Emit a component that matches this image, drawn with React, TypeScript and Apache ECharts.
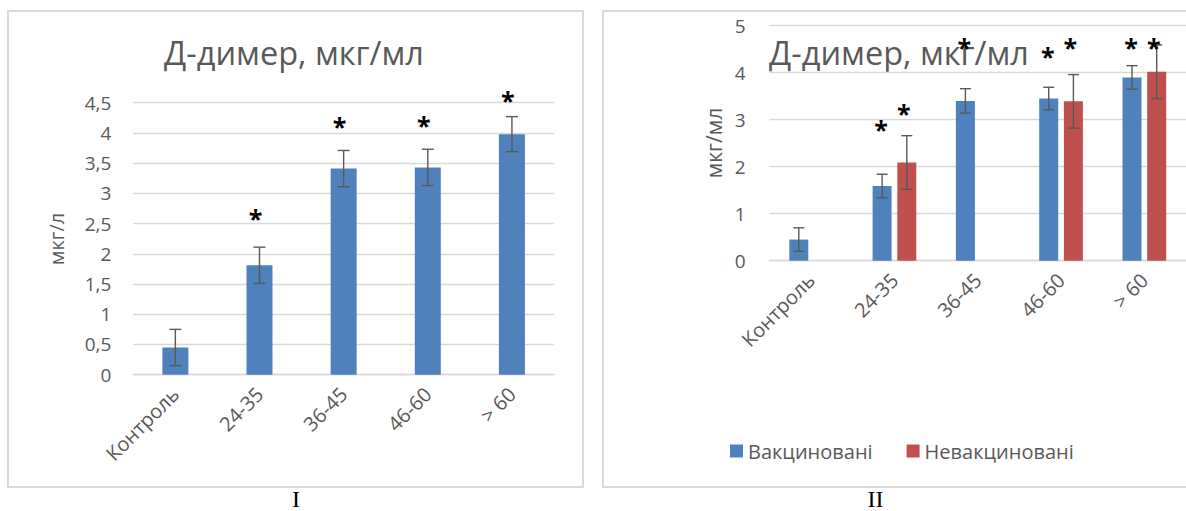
import React, { useEffect, useRef } from "react";
import * as echarts from "echarts";

// Age groups shared by both panels
const categories = ["Контроль", "24-35", "36-45", "46-60", "> 60"];

// Panel I: all patients
const dimerAll = [0.45, 1.81, 3.41, 3.43, 3.98];
const dimerAllErr = [0.3, 0.3, 0.3, 0.3, 0.29];
const starsAll = [null, 2.67, 4.19, 4.21, 4.63];

// Panel II: vaccinated vs unvaccinated
const seriesNames = ["Вакциновані", "Невакциновані"];
const dimerVacc = [0.45, 1.59, 3.4, 3.45, 3.9];
const dimerVaccErr = [0.25, 0.25, 0.26, 0.24, 0.25];
const dimerUnvacc = [null, 2.09, null, 3.39, 4.02];
const dimerUnvaccErr = [null, 0.57, null, 0.57, 0.57];
const starsVacc = [null, 2.91, 4.66, 4.47, 4.65];
const starsUnvacc = [null, 3.24, null, 4.65, 4.66];

const titleText = "Д-димер, мкг/мл";
const yNameI = "мкг/л";
const yNameII = "мкг/мл";
const panelLabels = ["I", "II"];

const FONT = "'Open Sans', 'Noto Sans', sans-serif";
const SERIF = "'Liberation Serif', 'Times New Roman', serif";
const GRAY = "#595959";
const GRID = "#d9d9d9";
const BLUE = "#4f81bd";
const RED = "#c0504d";

const fmt = (v: number) => String(v).replace(".", ",");

function errorBars(axis: number, values: (number | null)[], errs: (number | null)[], offset: number, capHalf: number) {
  const data: number[][] = [];
  values.forEach((v, i) => {
    if (v != null && errs[i] != null) data.push([i, v, errs[i] as number]);
  });
  return {
    type: "custom",
    xAxisIndex: axis,
    yAxisIndex: axis,
    silent: true,
    z: 10,
    data,
    renderItem: (_p: any, api: any) => {
      const x = api.value(0);
      const v = api.value(1);
      const e = api.value(2);
      const top = api.coord([x, v + e]);
      const bot = api.coord([x, v - e]);
      const cx = top[0] + offset;
      const st = { stroke: GRAY, lineWidth: 1.4 };
      return {
        type: "group",
        children: [
          { type: "line", shape: { x1: cx, y1: top[1], x2: cx, y2: bot[1] }, style: st },
          { type: "line", shape: { x1: cx - capHalf, y1: top[1], x2: cx + capHalf, y2: top[1] }, style: st },
          { type: "line", shape: { x1: cx - capHalf, y1: bot[1], x2: cx + capHalf, y2: bot[1] }, style: st },
        ],
      };
    },
  };
}

function stars(axis: number, heights: (number | null)[], offset: number) {
  const data: number[][] = [];
  heights.forEach((h, i) => {
    if (h != null) data.push([i, h]);
  });
  return {
    type: "custom",
    xAxisIndex: axis,
    yAxisIndex: axis,
    silent: true,
    z: 11,
    data,
    renderItem: (_p: any, api: any) => {
      const p = api.coord([api.value(0), api.value(1)]);
      return {
        type: "text",
        x: p[0] + offset,
        y: p[1] + 5,
        style: {
          text: "*",
          fill: "#000",
          fontFamily: FONT,
          fontWeight: "bold",
          fontSize: 25,
          align: "center",
          verticalAlign: "middle",
        },
      };
    },
  };
}

const xAxisBase = {
  type: "category",
  data: categories,
  axisTick: { show: false },
  axisLine: { lineStyle: { color: GRID, width: 1.4 } },
  axisLabel: { rotate: 45, fontSize: 20, color: GRAY, fontFamily: FONT, margin: 16, interval: 0 },
};

const yAxisBase = {
  type: "value",
  min: 0,
  axisLine: { show: false },
  axisTick: { show: false },
  splitLine: { lineStyle: { color: GRID, width: 1.4 } },
};

export default function App() {
  const ref = useRef<HTMLDivElement>(null);

  useEffect(() => {
    if (!ref.current) return;
    const chart = echarts.init(ref.current, undefined, { renderer: "svg" });
    const pairOffset = (19 + 19 * 0.3) / 2;

    chart.setOption({
      animation: false,
      backgroundColor: "#fff",
      grid: [
        { left: 133.3, top: 102.7, width: 420.7, height: 272 },
        { left: 769.5, top: 25.7, width: 428.5, height: 235 },
      ],
      xAxis: [
        { ...xAxisBase, gridIndex: 0 },
        { ...xAxisBase, gridIndex: 1 },
      ],
      yAxis: [
        {
          ...yAxisBase,
          gridIndex: 0,
          max: 4.5,
          interval: 0.5,
          axisLabel: { fontSize: 19, color: GRAY, fontFamily: FONT, margin: 22, formatter: fmt },
        },
        {
          ...yAxisBase,
          gridIndex: 1,
          max: 5,
          interval: 1,
          axisLabel: { fontSize: 19, color: GRAY, fontFamily: FONT, margin: 24, formatter: fmt },
        },
      ],
      legend: {
        data: seriesNames,
        left: 730,
        top: 441,
        padding: 0,
        icon: "rect",
        itemWidth: 13,
        itemHeight: 13,
        itemGap: 34,
        textStyle: { fontSize: 20, color: GRAY, fontFamily: FONT },
      },
      series: [
        {
          type: "bar",
          name: "Д-димер",
          xAxisIndex: 0,
          yAxisIndex: 0,
          barWidth: 26,
          itemStyle: { color: BLUE },
          data: dimerAll,
        },
        errorBars(0, dimerAll, dimerAllErr, 0, 6),
        stars(0, starsAll, -4),
        {
          type: "bar",
          name: seriesNames[0],
          xAxisIndex: 1,
          yAxisIndex: 1,
          barWidth: 19,
          barGap: "30%",
          itemStyle: { color: BLUE },
          data: dimerVacc,
        },
        {
          type: "bar",
          name: seriesNames[1],
          xAxisIndex: 1,
          yAxisIndex: 1,
          barWidth: 19,
          barGap: "30%",
          itemStyle: { color: RED },
          data: dimerUnvacc,
        },
        errorBars(1, dimerVacc, dimerVaccErr, -pairOffset, 5.5),
        errorBars(1, dimerUnvacc, dimerUnvaccErr, pairOffset, 5.5),
        stars(1, starsVacc, -pairOffset - 1),
        stars(1, starsUnvacc, pairOffset - 3),
      ],
      graphic: [
        {
          type: "rect",
          z: -10,
          shape: { x: 8, y: 11, width: 575, height: 476 },
          style: { fill: "none", stroke: GRID, lineWidth: 2 },
        },
        {
          type: "rect",
          z: -10,
          shape: { x: 603, y: 11, width: 620, height: 476 },
          style: { fill: "none", stroke: GRID, lineWidth: 2 },
        },
        {
          type: "text",
          x: 294,
          y: 52.5,
          style: { text: titleText, fontSize: 32.5, fontFamily: FONT, fill: GRAY, align: "center", verticalAlign: "middle" },
        },
        {
          type: "text",
          x: 899,
          y: 52.5,
          style: { text: titleText, fontSize: 32.5, fontFamily: FONT, fill: GRAY, align: "center", verticalAlign: "middle" },
        },
        {
          type: "text",
          x: 56,
          y: 239,
          rotation: Math.PI / 2,
          style: { text: yNameI, fontSize: 20, fontFamily: FONT, fill: GRAY, align: "center", verticalAlign: "middle" },
        },
        {
          type: "text",
          x: 714,
          y: 143,
          rotation: Math.PI / 2,
          style: { text: yNameII, fontSize: 21, fontFamily: FONT, fill: GRAY, align: "center", verticalAlign: "middle" },
        },
        {
          type: "text",
          x: 296,
          y: 499,
          style: { text: panelLabels[0], fontSize: 24, fontFamily: SERIF, fill: "#000", align: "center", verticalAlign: "middle" },
        },
        {
          type: "text",
          x: 875.5,
          y: 499,
          style: { text: panelLabels[1], fontSize: 24, fontFamily: SERIF, fill: "#000", align: "center", verticalAlign: "middle" },
        },
      ],
    });

    return () => chart.dispose();
  }, []);

  return <div ref={ref} style={{ position: "fixed", left: 0, top: 0, width: 1186, height: 511 }} />;
}
